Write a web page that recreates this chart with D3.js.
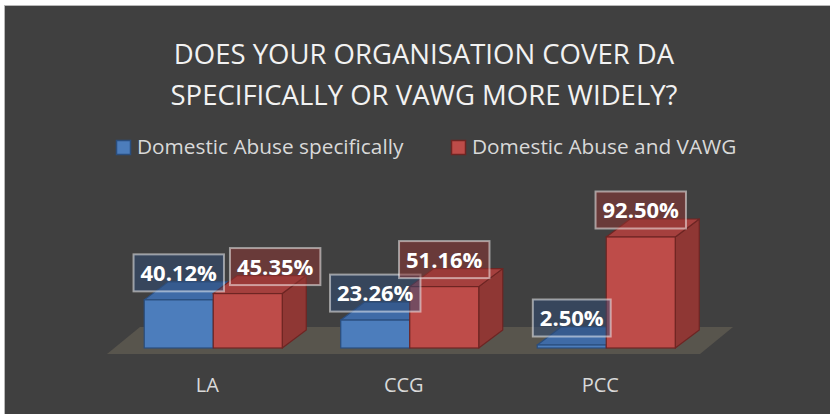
<!DOCTYPE html>
<html>
<head>
<meta charset="utf-8">
<script src="https://cdn.jsdelivr.net/npm/d3@7/dist/d3.min.js"></script>
<style>
    body { margin: 0; background: #ffffff; }
    svg text { font-family: "Open Sans", "Noto Sans", sans-serif; }
</style>
</head>
<body>
<div id="chart"></div>
<script>
// chart values
const titleLines = ["DOES YOUR ORGANISATION COVER DA", "SPECIFICALLY OR VAWG MORE WIDELY?"];
const categories = ["LA", "CCG", "PCC"];
const seriesNames = ["Domestic Abuse specifically", "Domestic Abuse and VAWG"];
const daSpecifically = [40.12, 23.26, 2.50];
const daAndVawg = [45.35, 51.16, 92.50];

let width = 830, height = 414;

// front / top / side / edge colours per series
let palette = [
    {front: "#4c7dbc", top: "#3f6ba7", side: "#365d92", edge: "#2a4e7e", label: "rgba(45,75,120,0.5)"},
    {front: "#be4c49", top: "#a5403e", side: "#8f3734", edge: "#6e2523", label: "rgba(145,52,50,0.5)"}
];

let depthX = 24, depthY = 18;
let baseY = 348;

let svg = d3.select("#chart")
    .append("svg")
    .attr("width", width)
    .attr("height", height);

svg.append("rect")
    .attr("x", 4.5).attr("y", 5.5)
    .attr("width", 840).attr("height", 420)
    .attr("fill", "#404040")
    .attr("stroke", "#b8b8b8");

// title
svg.append("g").selectAll("text")
    .data(titleLines)
    .enter().append("text")
    .attr("x", 424)
    .attr("y", (d, i) => 64 + i * 41)
    .attr("text-anchor", "middle")
    .attr("fill", "#f2f2f2")
    .style("font-size", "27.5px")
    .text(d => d);

// legend
let legendX = [116, 451];
let legend = svg.append("g").selectAll("g")
    .data(seriesNames)
    .enter().append("g")
    .attr("transform", (d, i) => "translate(" + legendX[i] + ",140)");
legend.append("rect")
    .attr("x", 0.5).attr("y", 0.5)
    .attr("width", 14).attr("height", 14)
    .attr("fill", (d, i) => palette[i].front)
    .attr("stroke", (d, i) => palette[i].edge)
    .attr("stroke-width", 1.5);
legend.append("text")
    .attr("x", 21)
    .attr("y", 14)
    .attr("fill", "#d9d9d9")
    .style("font-size", "20.8px")
    .text(d => d);

// scales
let x = d3.scaleBand()
    .domain(categories)
    .range([115, 704.5]);

let xSeries = d3.scaleBand()
    .domain(seriesNames)
    .range([-69, 69]);

let y = d3.scaleLinear()
    .domain([0, 100])
    .range([baseY, baseY - 120]);

// floor
let fl = x.range()[0] - 8, fr = x.range()[1] - 4.5;
let floorFront = baseY + 6, floorBack = baseY - 21;
svg.append("path")
    .attr("d", "M" + fl + "," + floorFront + "L" + fr + "," + floorFront +
        "L" + (fr + 33) + "," + floorBack + "L" + (fl + 33) + "," + floorBack + "Z")
    .attr("fill", "#58554d");

// bar records
let bars = [];
categories.forEach(function (c, ci) {
    [daSpecifically, daAndVawg].forEach(function (vals, si) {
        bars.push({cat: c, series: si, name: seriesNames[si], value: vals[ci]});
    });
});

function barGeom(d) {
    let x0 = x(d.cat) + x.bandwidth() / 2 + xSeries(d.name);
    let w = xSeries.bandwidth();
    let yt = y(d.value);
    return {x0: x0, w: w, yt: yt};
}

let barG = svg.append("g").attr("class", "bars")
    .selectAll("g")
    .data(bars)
    .enter().append("g");

barG.each(function (d) {
    let g = d3.select(this);
    let b = barGeom(d);
    let col = palette[d.series];
    let x1 = b.x0 + b.w;
    // side face
    g.append("path")
        .attr("d", "M" + x1 + "," + b.yt + "L" + (x1 + depthX) + "," + (b.yt - depthY) +
            "L" + (x1 + depthX) + "," + (baseY - depthY) + "L" + x1 + "," + baseY + "Z")
        .attr("fill", col.side)
        .attr("stroke", col.edge)
        .attr("stroke-width", 1.2)
        .attr("stroke-linejoin", "round");
    // top face
    g.append("path")
        .attr("d", "M" + b.x0 + "," + b.yt + "L" + x1 + "," + b.yt +
            "L" + (x1 + depthX) + "," + (b.yt - depthY) + "L" + (b.x0 + depthX) + "," + (b.yt - depthY) + "Z")
        .attr("fill", col.top)
        .attr("stroke", col.edge)
        .attr("stroke-width", 1.2)
        .attr("stroke-linejoin", "round");
    // front face
    g.append("rect")
        .attr("x", b.x0).attr("y", b.yt)
        .attr("width", b.w).attr("height", baseY - b.yt)
        .attr("fill", col.front)
        .attr("stroke", col.edge)
        .attr("stroke-width", 1.2);
});

// category labels
svg.append("g").selectAll("text")
    .data(categories)
    .enter().append("text")
    .attr("x", d => x(d) + x.bandwidth() / 2 - 6)
    .attr("y", 392)
    .attr("text-anchor", "middle")
    .attr("fill", "#d9d9d9")
    .style("font-size", "20px")
    .text(d => d);

// data labels
let format = d3.format(".2f");
let labelH = 37;
let placed = [];

let labG = svg.append("g").attr("class", "labels")
    .selectAll("g")
    .data(bars)
    .enter().append("g");

labG.each(function (d) {
    let g = d3.select(this);
    let b = barGeom(d);
    let t = g.append("text")
        .attr("text-anchor", "middle")
        .attr("fill", "#ffffff")
        .style("font-size", "22px")
        .style("font-weight", "bold")
        .text(format(d.value) + "%");
    let tw = t.node().getComputedTextLength();
    let bw = tw + 14;
    let cx = b.x0 + b.w / 2;
    let cy = b.yt - 27;
    // nudge right when it sits on top of the previous label
    let prev = placed[placed.length - 1];
    if (prev && d.series === 1 && prev.cat === d.cat) {
        let vOverlap = Math.min(prev.y1, cy + labelH / 2) - Math.max(prev.y0, cy - labelH / 2);
        if (vOverlap > 12 && cx - bw / 2 < prev.x1 + 6) cx = prev.x1 + 6 + bw / 2;
    }
    placed.push({cat: d.cat, x1: cx + bw / 2, y0: cy - labelH / 2, y1: cy + labelH / 2});
    g.insert("rect", "text")
        .attr("x", cx - bw / 2).attr("y", cy - labelH / 2)
        .attr("width", bw).attr("height", labelH)
        .attr("fill", palette[d.series].label)
        .attr("stroke", "rgba(255,255,255,0.5)")
        .attr("stroke-width", 2);
    t.attr("x", cx).attr("y", cy + 8);
});
</script>
</body>
</html>
